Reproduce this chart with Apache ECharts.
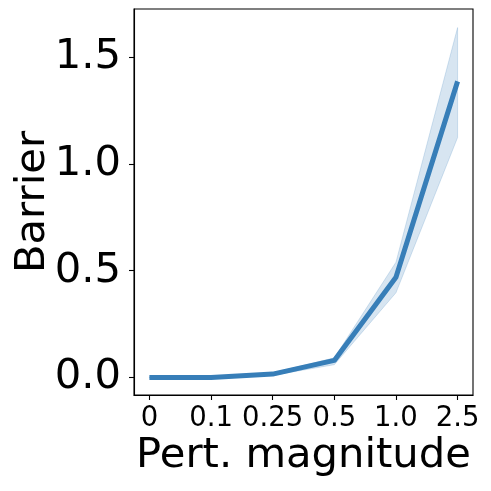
<!DOCTYPE html>
<html><head><meta charset="utf-8">
<script src="https://cdn.jsdelivr.net/npm/echarts@6/dist/echarts.min.js"></script>
<style>html,body{margin:0;padding:0;background:#fff}#c{width:491px;height:491px}</style>
</head><body><div id="c"></div>
<script>
const categories = ['0', '0.1', '0.25', '0.5', '1.0', '2.5'];
const meanValues = [0.0, 0.0, 0.016, 0.08, 0.47, 1.387];
const upperValues = [0.002, 0.002, 0.022, 0.092, 0.54, 1.639];
const lowerValues = [-0.002, -0.002, 0.010, 0.060, 0.397, 1.124];
const yTicks = [0, 0.5, 1.0, 1.5];

const idx = categories.map((c, i) => i);
const font = 'DejaVu Sans';
const chart = echarts.init(document.getElementById('c'), null, {renderer: 'canvas'});
chart.setOption({
  animation: false,
  grid: {left: 134, right: 18, top: 9, bottom: 96, show: true, borderColor: '#000', borderWidth: 1.1, backgroundColor: 'transparent'},
  xAxis: {
    type: 'value', min: -0.25, max: 5.25,
    splitLine: {show: false},
    axisLine: {show: true, onZero: false, lineStyle: {color: '#000', width: 1.1}},
    axisTick: {show: true, inside: false, length: 5, lineStyle: {color: '#000', width: 1.1}, customValues: idx},
    axisLabel: {fontFamily: font, fontSize: 27.5, color: '#000', margin: 10, customValues: idx,
      formatter: v => categories[Math.round(v)]},
    name: 'Pert. magnitude', nameLocation: 'middle', nameGap: 40, nameMoveOverlap: false,
    nameTextStyle: {fontFamily: font, fontSize: 41.7, color: '#000', verticalAlign: 'top'}
  },
  yAxis: {
    type: 'value', min: -0.082, max: 1.726,
    splitLine: {show: false},
    axisLine: {show: true, onZero: false, lineStyle: {color: '#000', width: 1.1}},
    axisTick: {show: true, inside: false, length: 5, lineStyle: {color: '#000', width: 1.1}, customValues: yTicks},
    axisLabel: {fontFamily: font, fontSize: 41.7, color: '#000', margin: 13, customValues: yTicks,
      formatter: v => v.toFixed(1)},
    name: 'Barrier', nameLocation: 'middle', nameGap: 80, nameMoveOverlap: false,
    nameTextStyle: {fontFamily: font, fontSize: 41.7, color: '#000'}
  },
  series: [
    {
      type: 'custom',
      data: [0],
      silent: true,
      z: 1,
      renderItem: function (params, api) {
        const pts = [];
        for (let i = 0; i < idx.length; i++) pts.push(api.coord([idx[i], upperValues[i]]));
        for (let i = idx.length - 1; i >= 0; i--) pts.push(api.coord([idx[i], lowerValues[i]]));
        return {type: 'polygon', shape: {points: pts},
          style: {fill: 'rgba(55,126,184,0.2)', stroke: 'rgba(55,126,184,0.2)', lineWidth: 1}};
      }
    },
    {
      type: 'line',
      data: idx.map((x, i) => [x, meanValues[i]]),
      showSymbol: false,
      z: 2,
      lineStyle: {color: '#377eb8', width: 5, cap: 'butt', join: 'round'},
      itemStyle: {color: '#377eb8'}
    }
  ]
});
</script></body></html>
